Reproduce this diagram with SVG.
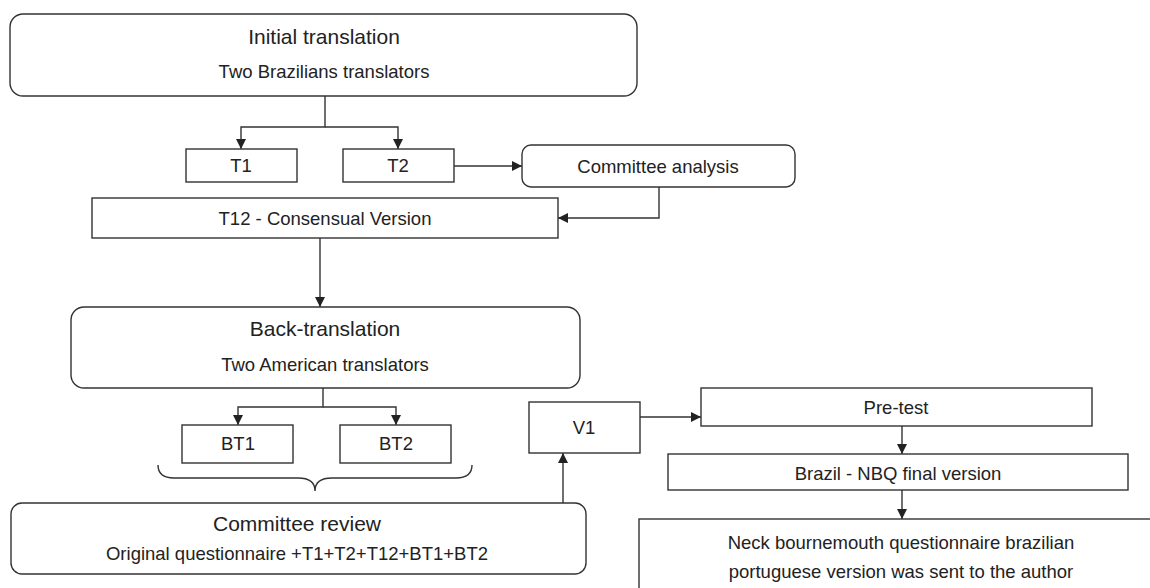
<svg xmlns="http://www.w3.org/2000/svg" width="1150" height="588" viewBox="0 0 1150 588">
<style>
.box{fill:#fff;stroke:#333;stroke-width:1.4}
.con{fill:none;stroke:#333;stroke-width:1.4}
text{font-family:"Liberation Sans",Arial,Helvetica,sans-serif;fill:#222;text-anchor:middle}
.h{font-size:21px}
.b{font-size:18.5px}
</style>
<defs>
<marker id="arr" markerUnits="userSpaceOnUse" markerWidth="10" markerHeight="10" refX="10" refY="5" orient="auto" viewBox="0 0 10 10">
<path d="M0,0 L10,5 L0,10 z" fill="#222"/>
</marker>
</defs>
<rect width="1150" height="588" fill="#fff"/>
<g id="connectors">
<path class="con" d="M325,96 V127 H241 V149" marker-end="url(#arr)"/>
<path class="con" d="M325,127 H398 V149" marker-end="url(#arr)"/>
<path class="con" d="M454,166 H522" marker-end="url(#arr)"/>
<path class="con" d="M659,187 V218 H558" marker-end="url(#arr)"/>
<path class="con" d="M320,238 V307" marker-end="url(#arr)"/>
<path class="con" d="M323,388 V407 H238 V425" marker-end="url(#arr)"/>
<path class="con" d="M323,407 H396 V425" marker-end="url(#arr)"/>
<path class="con" d="M563,503 V453" marker-end="url(#arr)"/>
<path class="con" d="M640,417 H701" marker-end="url(#arr)"/>
<path class="con" d="M902,426 V454" marker-end="url(#arr)"/>
<path class="con" d="M902,490 V519" marker-end="url(#arr)"/>
<path class="con" d="M158,465 Q158,478 174,478 H298 Q315,478 315,491 Q315,478 332,478 H456 Q472,478 472,465"/>
</g>
<g id="initial">
<rect class="box" x="10" y="14" width="627" height="82" rx="13"/>
<text class="h" x="324" y="44">Initial translation</text>
<text class="b" x="324" y="78">Two Brazilians translators</text>
</g>
<g id="t1">
<rect class="box" x="186" y="149" width="111" height="33"/>
<text class="b" x="241" y="172">T1</text>
</g>
<g id="t2">
<rect class="box" x="343" y="149" width="111" height="33"/>
<text class="b" x="398" y="172">T2</text>
</g>
<g id="committee-analysis">
<rect class="box" x="522" y="145" width="273" height="42" rx="9"/>
<text class="b" x="658" y="173">Committee analysis</text>
</g>
<g id="t12">
<rect class="box" x="92" y="198" width="466" height="40"/>
<text class="b" x="325" y="225">T12 - Consensual Version</text>
</g>
<g id="back-translation">
<rect class="box" x="71" y="307" width="509" height="81" rx="13"/>
<text class="h" x="325" y="336">Back-translation</text>
<text class="b" x="325" y="371">Two American translators</text>
</g>
<g id="bt1">
<rect class="box" x="182" y="425" width="111" height="38"/>
<text class="b" x="238" y="450">BT1</text>
</g>
<g id="bt2">
<rect class="box" x="340" y="425" width="111" height="38"/>
<text class="b" x="396" y="450">BT2</text>
</g>
<g id="committee-review">
<rect class="box" x="11" y="503" width="575" height="71" rx="11"/>
<text class="h" x="297" y="531">Committee review</text>
<text class="b" x="297" y="560">Original questionnaire +T1+T2+T12+BT1+BT2</text>
</g>
<g id="v1">
<rect class="box" x="529" y="402" width="111" height="51"/>
<text class="b" x="584" y="434">V1</text>
</g>
<g id="pretest">
<rect class="box" x="701" y="388" width="391" height="38"/>
<text class="b" x="896" y="414">Pre-test</text>
</g>
<g id="brazil-final">
<rect class="box" x="668" y="454" width="460" height="36"/>
<text class="b" x="898" y="480">Brazil - NBQ final version</text>
</g>
<g id="sent">
<rect class="box" x="639" y="519" width="530" height="100"/>
<text class="b" x="901" y="549">Neck bournemouth questionnaire brazilian</text>
<text class="b" x="901" y="578">portuguese version was sent to the author</text>
</g>
</svg>
